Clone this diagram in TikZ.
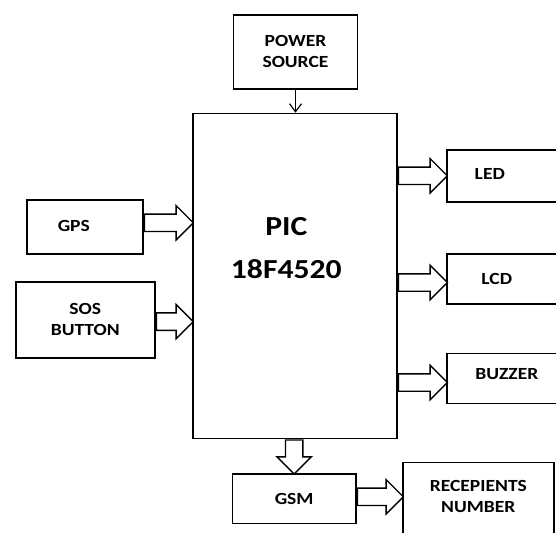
\documentclass[tikz,border=0pt]{standalone}
\usepackage{fontspec}
\setmainfont{Carlito}[FakeStretch=1.15]
\usetikzlibrary{shapes.arrows,arrows.meta}

\begin{document}
\begin{tikzpicture}[x=1pt,y=-1pt]
            \tikzset{block/.style = {draw, line width=1.6pt, fill=white, anchor=north west, inner sep=0pt,
                font=\fontsize{17}{21}\selectfont\bfseries, align=center}}
            \tikzset{lbl/.style = {font=\fontsize{17}{21}\selectfont\bfseries, align=center}}
            \tikzset{fatarrow/.style = {single arrow, draw, line width=1.4pt, fill=white, inner sep=0pt,
                text height=8pt, text depth=8pt, text width=0pt, single arrow head extend=8.5pt,
                pos=0, anchor=tail}}
            \useasboundingbox (0,0) rectangle (556,532);
            % blocks
            \node[block, minimum width=124pt, minimum height=74pt] (power) at (232.7,14) {POWER\\SOURCE};
            \node[block, minimum width=204pt, minimum height=325pt,
                label={[font=\fontsize{27.5}{43}\selectfont\bfseries, align=center, xshift=-8.5pt, yshift=28pt]center:PIC\\18F4520}] (pic) at (192,112.7) {};
            \node[block, minimum width=116pt, minimum height=54pt,
                label={[lbl, xshift=-11pt, yshift=1pt]center:GPS}] (gps) at (26,199) {};
            \node[block, minimum width=139pt, minimum height=76pt] (sos) at (15,281) {SOS\\BUTTON};
            \node[block, minimum width=120pt, minimum height=52pt,
                label={[lbl, xshift=-17pt, yshift=2pt]center:LED}] (led) at (446,149) {};
            \node[block, minimum width=120pt, minimum height=50pt,
                label={[lbl, xshift=-10pt]center:LCD}] (lcd) at (446,253.3) {};
            \node[block, minimum width=120pt, minimum height=50pt,
                label={[lbl, yshift=4.7pt]center:BUZZER}] (buzzer) at (446,352.7) {};
            \node[block, minimum width=123.3pt, minimum height=49.4pt] (gsm) at (231.7,473.3) {GSM};
            \node[block, minimum width=151pt, minimum height=80pt,
                label={[lbl, yshift=6pt]center:RECEPIENTS\\NUMBER}] (numbers) at (402,461.7) {};
            % links
            \draw[line width=1.2pt, -{Straight Barb[length=8pt,width=12pt]}] (power.south) -- (power.south |- pic.north);
            \path (gps.east) -- node[fatarrow, minimum height=49pt, yshift=4pt] {} (pic.west |- gps.east);
            \path (sos.east) -- node[fatarrow, minimum height=37pt, yshift=-1.8pt] {} (pic.west |- sos.east);
            \path (pic.east |- led.west) -- node[fatarrow, minimum height=49pt] {} (led.west);
            \path (pic.east |- lcd.west) -- node[fatarrow, minimum height=49pt, yshift=-3.4pt] {} (lcd.west);
            \path (pic.east |- buzzer.west) -- node[fatarrow, minimum height=49pt, yshift=-4pt] {} (buzzer.west);
            \path (gsm.north |- pic.south) -- node[fatarrow, minimum height=34pt, rotate=-90] {} (gsm.north);
            \path (gsm.east) -- node[fatarrow, minimum height=46pt, yshift=2pt] {} (numbers.west |- gsm.east);
        \end{tikzpicture}
\end{document}
